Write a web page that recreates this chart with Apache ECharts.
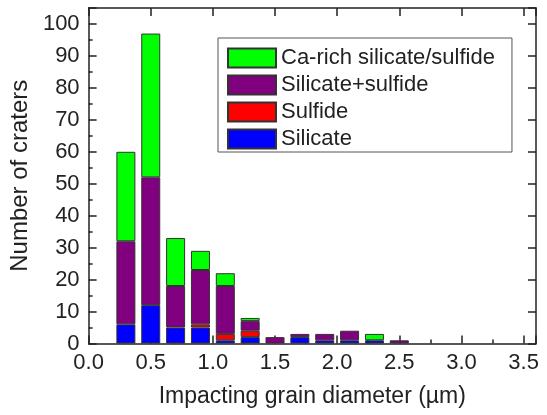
<!DOCTYPE html>
<html>
<head>
<meta charset="utf-8">
<script src="https://cdn.jsdelivr.net/npm/echarts@6/dist/echarts.min.js"></script>
<style>html,body{margin:0;padding:0;background:#fff}#c{width:547px;height:415px}</style>
</head>
<body>
<div id="c"></div>
<script>
// Histogram bins of width 0.2 µm spanning 0 – 3.6 µm (bin centres)
var binCenters = ['0.1','0.3','0.5','0.7','0.9','1.1','1.3','1.5','1.7','1.9','2.1','2.3','2.5','2.7','2.9','3.1','3.3','3.5'];
var silicate        = [0, 6, 12, 5, 5, 1, 2, 0, 2, 1, 1, 1, 0, 0, 0, 0, 0, 0];
var sulfide         = [0, 0, 0, 0, 1, 2, 2, 0, 0, 0, 0, 0, 0, 0, 0, 0, 0, 0];
var silicateSulfide = [0, 26, 40, 13, 17, 15, 3, 2, 1, 2, 3, 0, 1, 0, 0, 0, 0, 0];
var caRich          = [0, 28, 45, 15, 6, 4, 1, 0, 0, 0, 0, 2, 0, 0, 0, 0, 0, 0];
var xTicks = ['0.0','0.5','1.0','1.5','2.0','2.5','3.0','3.5'];
var yTicks = [0,10,20,30,40,50,60,70,80,90,100];

var names = ['Silicate', 'Sulfide', 'Silicate+sulfide', 'Ca-rich silicate/sulfide'];
var colors = ['#0000ff', '#ff0000', '#800080', '#00ff00'];
var values = [silicate, sulfide, silicateSulfide, caRich];

var FONT = '"Liberation Sans", Arial, sans-serif';
var chart = echarts.init(document.getElementById('c'));

var series = names.map(function (n, i) {
  return {
    name: n,
    type: 'bar',
    stack: 'total',
    xAxisIndex: 0, yAxisIndex: 0,
    barWidth: 19,
    itemStyle: { color: colors[i], borderColor: '#333', borderWidth: 1 },
    data: values[i].map(function (v) { return v === 0 ? '-' : v; })
  };
});
// invisible helper series (bin totals) so the frame axes have a non-blank scale
var totals = binCenters.map(function (c, k) {
  return [parseFloat(c), silicate[k] + sulfide[k] + silicateSulfide[k] + caRich[k]];
});
function helper(xi, yi) {
  return { type: 'scatter', xAxisIndex: xi, yAxisIndex: yi, data: totals, symbolSize: 0, silent: true, itemStyle: { opacity: 0 } };
}
series.push(helper(1, 0), helper(2, 1));

function line() { return { show: true, onZero: false, lineStyle: { color: '#222', width: 1.5 } }; }
function tick() { return { show: true, inside: true, length: 8, lineStyle: { color: '#222', width: 1.5 } }; }
function minor(visible) {
  return { show: true, splitNumber: 2, length: 4,
    lineStyle: { color: visible ? '#222' : 'rgba(0,0,0,0)', width: 1.5 } };
}
function emptyLabel() { return { show: true, formatter: function () { return ''; } }; }

chart.setOption({
  animation: false,
  backgroundColor: '#fff',
  grid: { left: 87.5, right: 8.5, top: 6, bottom: 71.5, containLabel: false },
  legend: {
    data: ['Ca-rich silicate/sulfide', 'Silicate+sulfide', 'Sulfide', 'Silicate'],
    orient: 'vertical',
    left: 218, top: 38,
    icon: 'rect',
    itemWidth: 48, itemHeight: 19, itemGap: 5,
    padding: [9, 17, 2, 9],
    borderColor: '#555', borderWidth: 1,
    selectedMode: false,
    textStyle: { fontFamily: FONT, fontSize: 22, color: '#222' }
  },
  xAxis: [{
    type: 'category', data: binCenters, boundaryGap: true, show: false, position: 'bottom'
  }, {
    type: 'value', position: 'bottom', min: 0, max: 3.6, interval: 0.5,
    name: 'Impacting grain diameter (\u00b5m)', nameLocation: 'middle', nameGap: 42,
    nameTextStyle: { fontFamily: FONT, fontSize: 23, color: '#222' },
    axisLine: line(), axisTick: tick(), minorTick: minor(true),
    axisLabel: { fontFamily: FONT, fontSize: 22, color: '#222', margin: 8, showMaxLabel: false,
      formatter: function (v) { var i = Math.round(v / 0.5); return Math.abs(v - i * 0.5) < 1e-6 ? xTicks[i] : ''; } },
    splitLine: { show: false }
  }, {
    type: 'value', position: 'top', min: 0, max: 3.6, interval: 0.5,
    axisLine: line(), axisTick: tick(), minorTick: minor(false),
    axisLabel: emptyLabel(), splitLine: { show: false }
  }],
  yAxis: [{
    type: 'value', position: 'left', min: 0, max: 105, interval: 10,
    name: 'Number of craters', nameLocation: 'middle', nameGap: 52,
    nameTextStyle: { fontFamily: FONT, fontSize: 24, color: '#222' },
    axisLine: line(), axisTick: tick(), minorTick: minor(true),
    axisLabel: { fontFamily: FONT, fontSize: 22, color: '#222', margin: 9, showMaxLabel: false,
      formatter: function (v) { var i = Math.round(v / 10); return (Math.abs(v - i * 10) < 1e-6 && i < yTicks.length) ? String(yTicks[i]) : ''; } },
    splitLine: { show: false }
  }, {
    type: 'value', position: 'right', min: 0, max: 105, interval: 10,
    axisLine: line(), axisTick: tick(), minorTick: minor(false),
    axisLabel: emptyLabel(), splitLine: { show: false }
  }],
  series: series
});
</script>
</body>
</html>
